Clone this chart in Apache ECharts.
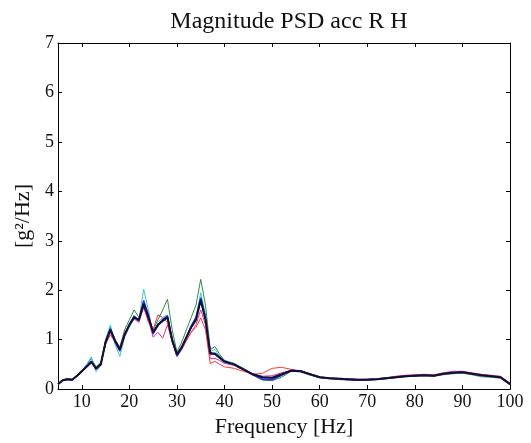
<!DOCTYPE html>
<html>
<head>
<meta charset="utf-8">
<script src="https://cdn.jsdelivr.net/npm/echarts@6/dist/echarts.min.js"></script>
<style>
  html, body { margin: 0; padding: 0; background: #fff; }
  #contain { width: 531px; height: 443px; }
</style>
</head>
<body>
<div id="contain"></div>
<script>
// frequency grid [Hz]
const freq = [5,6,7,8,9,10,11,12,13,14,15,16,17,18,19,20,21,22,23,24,25,26,27,28,29,30,
  31,32,33,34,35,36,37,38,39,40,42,44,46,48,50,52,54,56,58,60,62,64,66,68,70,72,74,76,78,80,
  82,84,86,88,90,92,94,96,98,100]
const xTicks = [10,20,30,40,50,60,70,80,90,100]

// PSD curves [g^2/Hz]
const psdGreen = [0.11,0.19,0.21,0.20,0.28,0.38,0.48,0.62,0.45,0.55,1.00,1.25,1.00,0.85,1.20,1.40,1.60,1.45,1.70,1.45,
  1.20,1.40,1.60,1.82,1.20,0.75,0.95,1.20,1.45,1.70,2.22,1.70,0.80,0.86,0.70,0.58,
  0.52,0.40,0.28,0.18,0.17,0.24,0.36,0.35,0.28,0.23,0.21,0.20,0.19,0.18,0.18,0.20,0.21,0.23,0.25,0.26,
  0.27,0.26,0.29,0.31,0.32,0.29,0.25,0.24,0.22,0.09]
const psdCyan = [0.10,0.17,0.19,0.18,0.26,0.37,0.50,0.65,0.35,0.48,1.00,1.30,0.90,0.66,1.05,1.25,1.42,1.40,2.02,1.60,
  1.10,1.35,1.45,1.50,1.00,0.65,0.80,1.00,1.25,1.45,1.95,1.50,0.76,0.80,0.66,0.58,
  0.52,0.42,0.30,0.22,0.20,0.28,0.38,0.37,0.29,0.23,0.21,0.20,0.19,0.18,0.18,0.19,0.21,0.23,0.25,0.27,
  0.27,0.28,0.30,0.32,0.33,0.30,0.27,0.25,0.23,0.11]
const psdRed = [0.09,0.18,0.20,0.19,0.27,0.35,0.44,0.52,0.42,0.52,0.90,1.10,0.95,0.85,1.15,1.30,1.45,1.40,1.67,1.35,
  1.20,1.50,1.45,1.35,0.95,0.70,0.82,1.00,1.15,1.25,1.44,1.20,0.52,0.56,0.50,0.45,
  0.42,0.36,0.30,0.32,0.42,0.44,0.40,0.36,0.30,0.24,0.22,0.21,0.20,0.19,0.20,0.21,0.23,0.25,0.27,0.28,
  0.29,0.28,0.32,0.34,0.33,0.31,0.29,0.27,0.25,0.11]
const psdMagenta = [0.10,0.17,0.19,0.18,0.26,0.35,0.44,0.54,0.43,0.52,0.92,1.15,0.95,0.80,1.08,1.28,1.42,1.35,1.65,1.40,
  1.05,1.15,1.03,1.30,0.95,0.66,0.80,0.98,1.15,1.30,1.60,1.30,0.62,0.62,0.58,0.52,
  0.48,0.38,0.30,0.26,0.27,0.33,0.38,0.36,0.31,0.25,0.23,0.22,0.21,0.20,0.20,0.21,0.23,0.26,0.28,0.29,
  0.30,0.29,0.33,0.36,0.36,0.33,0.30,0.28,0.26,0.12]
const psdPurple = [0.10,0.18,0.20,0.19,0.27,0.36,0.45,0.57,0.40,0.50,0.96,1.20,0.96,0.76,1.08,1.30,1.46,1.38,1.80,1.50,
  1.15,1.30,1.42,1.45,1.00,0.68,0.84,1.05,1.26,1.42,1.78,1.42,0.70,0.70,0.62,0.55,
  0.49,0.39,0.28,0.23,0.22,0.29,0.38,0.37,0.30,0.24,0.22,0.21,0.20,0.19,0.19,0.20,0.22,0.24,0.26,0.28,
  0.28,0.27,0.32,0.34,0.34,0.31,0.28,0.26,0.24,0.10]
const psdBlue = [0.10,0.18,0.20,0.19,0.27,0.36,0.46,0.56,0.40,0.50,0.95,1.22,0.95,0.78,1.10,1.30,1.48,1.38,1.78,1.50,
  1.12,1.28,1.40,1.48,0.98,0.68,0.83,1.05,1.28,1.45,1.85,1.45,0.74,0.70,0.63,0.55,
  0.50,0.40,0.29,0.20,0.19,0.28,0.38,0.37,0.30,0.24,0.22,0.20,0.19,0.18,0.19,0.20,0.22,0.24,0.26,0.27,
  0.28,0.27,0.31,0.33,0.35,0.31,0.28,0.26,0.24,0.10]
const psdMean = [0.10,0.18,0.20,0.19,0.27,0.36,0.45,0.55,0.42,0.50,0.95,1.20,0.98,0.80,1.10,1.30,1.45,1.40,1.72,1.45,
  1.15,1.30,1.38,1.45,1.00,0.70,0.85,1.05,1.25,1.40,1.80,1.40,0.72,0.72,0.64,0.56,
  0.50,0.40,0.30,0.24,0.23,0.30,0.37,0.36,0.30,0.24,0.22,0.21,0.20,0.19,0.19,0.20,0.22,0.24,0.26,0.27,
  0.28,0.27,0.31,0.33,0.34,0.31,0.28,0.26,0.24,0.10]

const curves = [
  { data: psdGreen, color: '#2f8f3f', width: 1 },
  { data: psdCyan, color: '#3cc4d4', width: 1 },
  { data: psdRed, color: '#ff3838', width: 1 },
  { data: psdMagenta, color: '#e0307f', width: 1 },
  { data: psdPurple, color: '#9a58d0', width: 1.2 },
  { data: psdBlue, color: '#2a2af0', width: 1.5 },
  { data: psdMean, color: '#101030', width: 2 }
]

const font = 'Liberation Serif'
const chart = echarts.init(document.getElementById('contain'))

const boxAxis = {
  axisLine: { show: true, onZero: false, lineStyle: { color: '#000', width: 1 } },
  axisTick: { show: true, inside: true, length: 4, lineStyle: { color: '#000' } },
  splitLine: { show: false }
}

chart.setOption({
  animation: false,
  backgroundColor: '#fff',
  title: {
    text: 'Magnitude PSD acc R H',
    left: 284, top: 5, textAlign: 'center',
    textStyle: { fontFamily: font, fontSize: 24, fontWeight: 'normal', color: '#111' }
  },
  grid: { left: 58, right: 21, top: 43, bottom: 52 },
  xAxis: [
    {
      ...boxAxis, type: 'value', min: 5, max: 100, position: 'bottom',
      axisTick: { ...boxAxis.axisTick, customValues: xTicks },
      axisLabel: { customValues: xTicks, margin: 4, fontFamily: font, fontSize: 18, color: '#111' },
      name: 'Frequency [Hz]', nameLocation: 'middle', nameGap: 23,
      nameTextStyle: { fontFamily: font, fontSize: 22, color: '#111' }
    },
    {
      ...boxAxis, type: 'value', min: 5, max: 100, position: 'top',
      axisTick: { ...boxAxis.axisTick, customValues: xTicks },
      axisLabel: { show: false }
    }
  ],
  yAxis: [
    {
      ...boxAxis, type: 'value', min: 0, max: 7, interval: 1, position: 'left',
      axisLabel: { margin: 4, fontFamily: font, fontSize: 18, color: '#111' },
      name: '[g²/Hz]', nameLocation: 'middle', nameGap: 23,
      nameTextStyle: { fontFamily: font, fontSize: 22, color: '#111' }
    },
    {
      ...boxAxis, type: 'value', min: 0, max: 7, interval: 1, position: 'right',
      axisLabel: { show: false }
    }
  ],
  series: curves.map(c => ({
    type: 'line',
    data: freq.map((f, i) => [f, c.data[i]]),
    showSymbol: false,
    symbol: 'none',
    lineStyle: { color: c.color, width: c.width },
    z: 2
  }))
})
</script>
</body>
</html>
